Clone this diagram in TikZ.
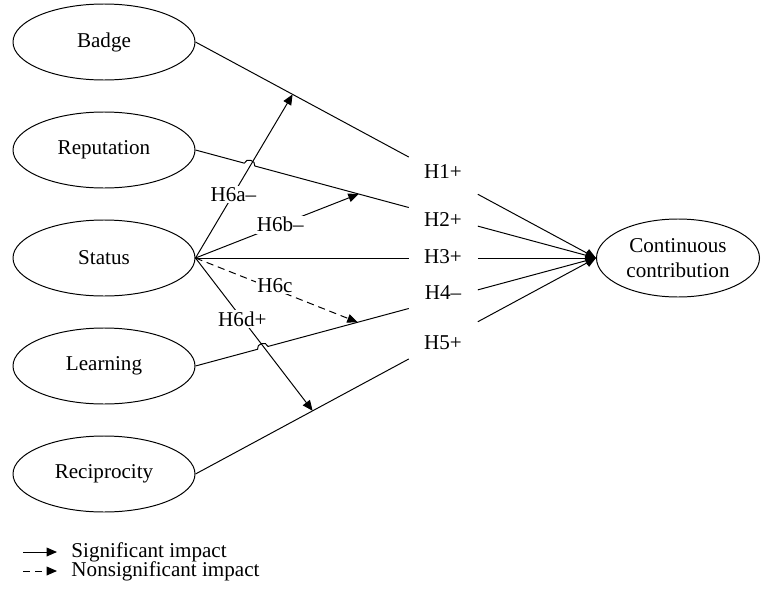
\documentclass[tikz,border=0pt]{standalone}
\usepackage{fontspec}
\setmainfont{Liberation Serif}
\usetikzlibrary{arrows.meta,shapes.geometric}
\tikzstyle{construct}=[ellipse, draw, inner sep=0pt, minimum width=45.5mm, minimum height=19mm]
\tikzstyle{tag}=[fill=white, inner sep=1pt]
\tikzstyle{hyp}=[-{Triangle[length=2.6mm,width=2.2mm]}]
\tikzstyle{nonsig}=[hyp, dash pattern=on 1.8mm off 1.2mm]
\newcommand{\construct}{\node[construct]}

\begin{document}
\begin{tikzpicture}[x=0.25mm, y=-0.25mm, line width=0.7pt
  ,font=\fontsize{15}{18}\selectfont
]
\useasboundingbox (0,0) rectangle (764,592);
\construct (badge)  at (104, 42) {Badge};
\construct (rep)    at (104,150) {Reputation};
\construct (status) at (104,258) {Status};
\construct (learn)  at (104,366) {Learning};
\construct (recip)  at (104,474) {Reciprocity};
\construct (cc) at (678,258) [minimum width=40.75mm, minimum height=19.5mm, align=center]{Continuous\\contribution};
\node (h1) at (443,172) {H1+};
\node (h2) at (443,220) {H2+};
\node (h3) at (443,257) {H3+};
\node (h4) at (443,293) {H4–};
\node (h5) at (443,343) {H5+};
% gaps round the labels H1+ ... H5+
\foreach \v in {badge,rep,status,learn,recip}
  \path (\v.east) -- (cc.west) coordinate[pos=.5325] (\v-a) coordinate[pos=.705] (\v-b);
% hops and end points of H6
\path (badge.east) -- (cc.west) coordinate[pos=.2425] (t6a);
\path (rep.east) -- (cc.west) coordinate[pos=.122] (rep-u) coordinate[pos=.148] (rep-v) coordinate[pos=.4075] (t6b);
\path (learn.east) -- (cc.west) coordinate[pos=.155] (learn-u) coordinate[pos=.181] (learn-v) coordinate[pos=.405] (t6c);
\path (recip.east) -- (cc.west) coordinate[pos=.2925] (t6d);
\draw (badge.east) -- (badge-a);
\draw (rep.east) -- (rep-u) to[bend left=90, looseness=1.4] (rep-v) -- (rep-a);
\draw (status.east) -- (status-a);
\draw (learn.east) -- (learn-u) to[bend left=90, looseness=1.4] (learn-v) -- (learn-a);
\draw (recip.east) -- (recip-a);
\path
(badge-b) edge[hyp] (cc.west)
(rep-b) edge[hyp] (cc.west)
(status-b) edge[hyp] (cc.west)
(learn-b) edge[hyp] (cc.west)
(recip-b) edge[hyp] (cc.west)
(status.east) edge[hyp] node[tag,pos=.39] {H6a–} (t6a)
(status.east) edge[hyp] node[tag,pos=.52] {H6b–} (t6b)
(status.east) edge[nonsig] node[tag,pos=.49,yshift=1mm] {H6c} (t6c)
(status.east) edge[hyp] node[tag,pos=.4] {H6d+} (t6d)
;
% legend
\coordinate (s1) at (23,552);
\coordinate (s2) at (23,571);
\node[anchor=west, inner xsep=3.5mm] (sig) at (57,552) {Significant impact};
\node[anchor=west, inner xsep=3.5mm] (nsig) at (57,571) {Nonsignificant impact};
\path
(s1) edge[hyp] (sig.west)
(s2) edge[nonsig] (nsig.west)
;
\end{tikzpicture}
\end{document}
